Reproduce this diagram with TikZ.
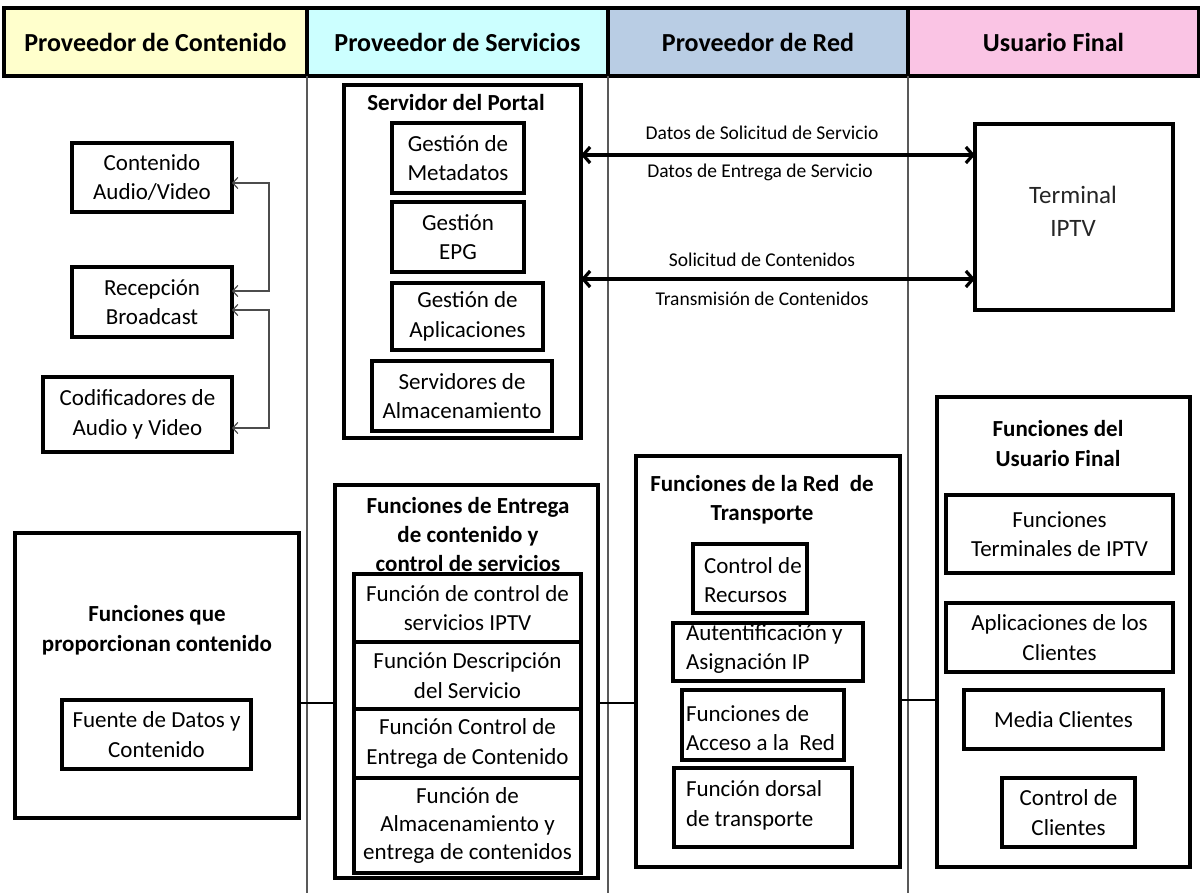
\documentclass[tikz,border=0pt]{standalone}
\usepackage{fontspec}
\setmainfont{Carlito}
\usetikzlibrary{arrows.meta}
\definecolor{hdrYellow}{RGB}{255,255,204}
\definecolor{hdrCyan}{RGB}{204,255,255}
\definecolor{hdrBlue}{RGB}{185,205,228}
\definecolor{hdrPink}{RGB}{250,196,228}
\begin{document}
\begin{tikzpicture}[x=1pt,y=-1pt,
  every node/.style={font=\fontsize{23}{29.5}\selectfont, inner sep=0pt, outer sep=0pt},
  box/.style={draw, line width=3.1pt, align=center},
  ttl/.style={font=\fontsize{23}{29.5}\selectfont\bfseries, align=center},
  hdr/.style={draw, line width=3.2pt, font=\fontsize{26}{30}\selectfont\bfseries, minimum height=68pt},
  lane/.style={draw=black!65, line width=1.3pt},
  feed/.style={draw=black!70, line width=1.2pt, {Straight Barb[length=5pt,width=11pt]}-{Straight Barb[length=5pt,width=11pt]}},
  flow/.style={line width=3.2pt, {Straight Barb[length=7pt,width=16pt]}-{Straight Barb[length=7pt,width=16pt]}},
  lbl/.style={font=\fontsize{19.5}{22}\selectfont},
  link/.style={line width=2pt}
]
\useasboundingbox (0,0) rectangle (1200,893);
\fill[white] (0,0) rectangle (1200,893);

% header row
\node[hdr, fill=hdrYellow, minimum width=303pt] (h1) at (155.5,42) {Proveedor de Contenido};
\node[hdr, fill=hdrCyan,   minimum width=301pt] (h2) at (457.5,42) {Proveedor de Servicios};
\node[hdr, fill=hdrBlue,   minimum width=300pt] (h3) at (758,42) {Proveedor de Red};
\node[hdr, fill=hdrPink,   minimum width=291pt] (h4) at (1053.5,42) {Usuario Final};

% lane separators
\coordinate (bottom) at (0,893);
\draw[lane] (h1.south east) -- (h1.south east |- bottom);
\draw[lane] (h2.south east) -- (h2.south east |- bottom);
\draw[lane] (h3.south east) -- (h3.south east |- bottom);

% content provider: sources
\node[box, minimum width=160pt, minimum height=69pt] (cav) at (152,177.5) {Contenido\\Audio/Video};
\node[box, minimum width=160pt, minimum height=70pt] (rb) at (152,302) {Recepción\\Broadcast};
\node[box, minimum width=189pt, minimum height=75pt] (cod) at (137.5,414.5) {Codificadores de\\Audio y Video};
\draw[feed] ([yshift=-5.5pt]cav.east) -- ++(37,0) |- ([yshift=11pt]rb.east);
\draw[feed] ([yshift=-8pt]rb.east) -- ++(37,0) |- ([yshift=-13.5pt]cod.east);

% service provider: portal server
\node[box, minimum width=237pt, minimum height=353pt] (portal) at (462.5,261.5) {};
\node[ttl] (portalT) at (456,103) {Servidor del Portal};
\node[box, minimum width=132pt, minimum height=70pt] (gm) at (458,158) {Gestión de\\Metadatos};
\node[box, minimum width=132pt, minimum height=70pt] (gepg) at (458,237) {Gestión\\EPG};
\node[box, minimum width=151pt, minimum height=67pt] (ga) at (467.5,316.5) {Gestión de\\Aplicaciones};
\node[box, minimum width=180pt, minimum height=70pt] (sa) at (462,396) {Servidores de\\Almacenamiento};

% end user terminal
\node[box, minimum width=198pt, minimum height=186pt] (term) at (1074,217) {};
\node[font=\fontsize{25}{33}\selectfont, text=black!85, align=center] (termT) at (1073,211) {Terminal\\IPTV};

% exchanges between portal and terminal
\coordinate (r1) at (0,155);
\coordinate (r2) at (0,279);
\draw[flow] (portal.east |- r1) -- (term.west |- r1);
\draw[flow] (portal.east |- r2) -- (term.west |- r2);
\node[lbl] (l1) at (762,133) {Datos de Solicitud de Servicio};
\node[lbl] (l2) at (760,172) {Datos de Entrega de Servicio};
\node[lbl] (l3) at (762,260) {Solicitud de Contenidos};
\node[lbl] (l4) at (762,299) {Transmisión de Contenidos};

% content provision functions
\node[box, minimum width=284pt, minimum height=285pt] (fpc) at (157,675.5) {};
\node[ttl] (fpcT) at (157,630) {Funciones que\\proporcionan contenido};
\node[box, minimum width=189pt, minimum height=69pt] (fdc) at (156.5,734.5) {Fuente de Datos y\\Contenido};

% content delivery and service control functions
\node[box, minimum width=263pt, minimum height=393pt] (ent) at (466.5,681.5) {};
\node[ttl, font=\fontsize{23}{29}\selectfont\bfseries] (entT) at (468,535) {Funciones de Entrega\\de contenido y\\control de servicios};
\node[box, minimum width=227pt, minimum height=68pt] (e1) at (467.5,608) {Función de control de\\servicios IPTV};
\node[box, minimum width=227pt, minimum height=67pt] (e2) at (467.5,675.5) {Función Descripción\\del Servicio};
\node[box, minimum width=227pt, minimum height=69pt] (e3) at (467.5,743.5) {Función Control de\\Entrega de Contenido};
\node[box, minimum width=227pt, minimum height=95pt, font=\fontsize{23}{28}\selectfont] (e4) at (467.5,825.5) {Función de\\Almacenamiento y\\entrega de contenidos};

% transport network functions
\node[box, minimum width=264pt, minimum height=411pt] (red) at (768,661.5) {};
\node[ttl] (redT) at (762,499.5) {Funciones de la Red\ \ de\\Transporte};
\node[box, minimum width=114pt, minimum height=69pt] (cr) at (750,578.5) {};
\node[anchor=west, align=left] (crT) at (704,580) {Control de\\Recursos};
\node[box, minimum width=190pt, minimum height=58pt] (au) at (768,652) {};
\node[anchor=west, align=left] (auT) at (686,649) {Autentificación y\\Asignación IP};
\node[box, minimum width=162pt, minimum height=70pt] (fa) at (763,725) {};
\node[anchor=west, align=left] (faT) at (686,728) {Funciones de\\Acceso a la\ \ Red};
\node[box, minimum width=178pt, minimum height=79pt] (fd) at (763,807.5) {};
\node[anchor=west, align=left] (fdT) at (686,805.5) {Función dorsal\\de transporte};

% end user functions
\node[box, minimum width=253pt, minimum height=470pt] (usr) at (1063.5,632) {};
\node[ttl] (usrT) at (1058,443.5) {Funciones del\\Usuario Final};
\node[box, minimum width=227pt, minimum height=78pt] (ft) at (1059.5,534) {Funciones\\Terminales de IPTV};
\node[box, minimum width=227pt, minimum height=69pt] (ac) at (1059.5,637.5) {Aplicaciones de los\\Clientes};
\node[box, minimum width=199pt, minimum height=59pt] (mc) at (1063.5,719.5) {Media Clientes};
\node[box, minimum width=133pt, minimum height=69pt] (cc) at (1068.5,812.5) {Control de\\Clientes};

% links between the function blocks
\coordinate (m1) at (0,703);
\coordinate (m2) at (0,700);
\draw[link] (fpc.east |- m1) -- (ent.west |- m1);
\draw[link] (ent.east |- m1) -- (red.west |- m1);
\draw[link] (red.east |- m2) -- (usr.west |- m2);
\end{tikzpicture}
\end{document}
